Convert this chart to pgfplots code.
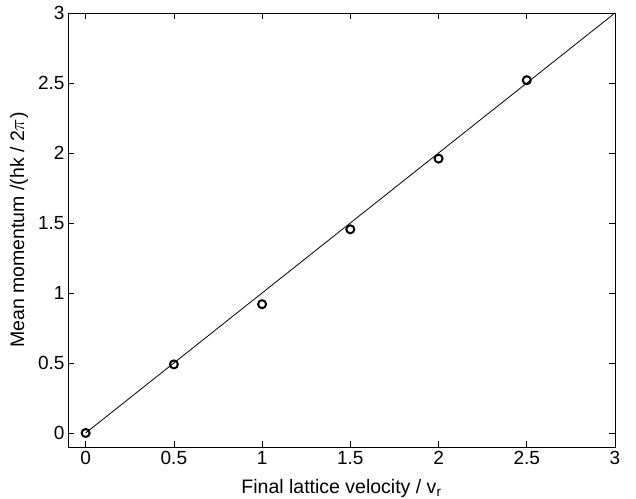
\documentclass[border=0pt]{standalone}
\usepackage{fontspec}
\setmainfont{Liberation Sans}
\usepackage{pgfplots}
\pgfplotsset{compat=1.18}
\begin{document}
\begin{tikzpicture}
\begin{axis}[
  name=ax,
  scale only axis,
  width=547pt, height=434pt,
  xmin=-0.1, xmax=3, ymin=-0.1, ymax=3,
  xtick={0,0.5,...,3}, ytick={0,0.5,...,3},
  tick align=inside,
  major tick length=6pt,
  tick style={black, line width=0.6pt},
  axis line style={line width=0.6pt},
  /pgf/number format/assume math mode=true,
  xlabel={Final lattice velocity / v\textsubscript{r}},
  ylabel={Mean momentum /(hk / 2$\pi$)},
  label style={font=\fontsize{19.5}{22}\selectfont},
  xlabel style={at={(axis description cs:0.5,0)}, anchor=center, yshift=-41pt},
  ylabel style={at={(axis description cs:0,0.5)}, anchor=center, yshift=49pt},
  ticklabel style={font=\fontsize{19}{22}\selectfont},
  xticklabel style={yshift=-1pt},
]
\addplot[black, line width=0.8pt] coordinates {(0,0) (3,3)};
\addplot[only marks, mark=o, mark size=4pt, line width=2pt, black] coordinates {
(0,0) (0.5,0.49) (1,0.92) (1.5,1.455) (2,1.96) (2.5,2.52)
};
\end{axis}
\pgfresetboundingbox
\path (ax.south west) ++(-68pt,-52pt) coordinate (bl);
\path (ax.north east) ++(21pt,13pt) coordinate (tr);
\useasboundingbox (bl) rectangle (tr);
\end{tikzpicture}
\end{document}
